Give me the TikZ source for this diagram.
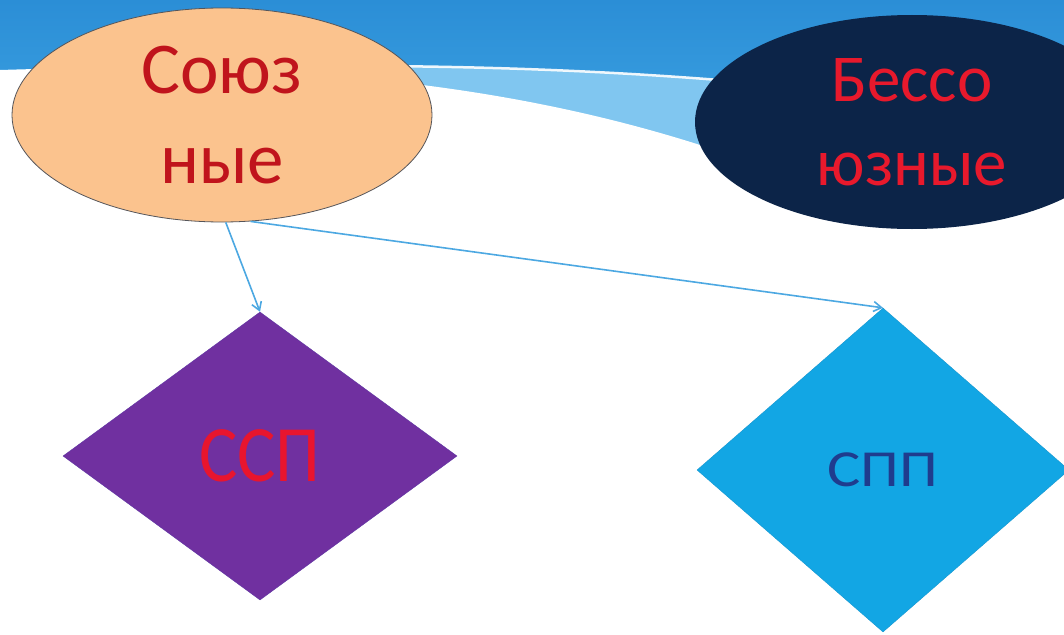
\documentclass[tikz,border=0pt]{standalone}
\usepackage{fontspec}
\setmainfont{Carlito}
\newfontfamily\narrowfont[FakeStretch=0.9]{Carlito}
\newfontfamily\widefont[FakeStretch=1.2]{Carlito}
\usepackage{tikz}
\usepackage{xcolor}
\usetikzlibrary{arrows.meta, shapes.geometric, positioning}

\definecolor{skytop}{HTML}{2B8ED6}
\definecolor{skybottom}{HTML}{4AB2EC}
\definecolor{skyband}{HTML}{80C6F0}
\definecolor{peach}{HTML}{FBC38E}
\definecolor{rimgray}{HTML}{55555A}
\definecolor{soyuzred}{HTML}{C0141C}
\definecolor{navy}{HTML}{0C2448}
\definecolor{bessred}{HTML}{E8192C}
\definecolor{grape}{HTML}{7030A0}
\definecolor{grapeedge}{HTML}{5E34A2}
\definecolor{sspred}{HTML}{E8152E}
\definecolor{cyanfill}{HTML}{12A6E4}
\definecolor{cyanedge}{HTML}{1496D0}
\definecolor{sppblue}{HTML}{1F3C8E}
\definecolor{linkblue}{HTML}{4CA8E2}

\begin{document}
\begin{tikzpicture}[x=1pt, y=-1pt,
    oval/.style={ellipse, inner sep=0pt, minimum width=420pt, minimum height=214pt, align=center},
    rhomb/.style={diamond, inner sep=0pt},
    link/.style={draw=linkblue, line width=1.6pt, -{Straight Barb[length=8pt, width=10pt]}}]

    \path[use as bounding box] (0, 0) rectangle (1064, 634);
    \clip (0, 0) rectangle (1064, 634);

    \fill[white] (0, 0) rectangle (1064, 634);
    \shade[top color=skytop, bottom color=skybottom] (0, 0) rectangle (1064, 260);
    \fill[skyband]
    (300, 66) .. controls (480, 65) and (640, 71) .. (820, 89) -- (820, 300) -- (300, 300) -- cycle;
    \draw[white, opacity=0.9, line width=2.5pt]
    (300, 66) .. controls (480, 65) and (640, 71) .. (820, 89);
    \fill[white]
    (0, 70) .. controls (250, 62) and (480, 75) .. (700, 145)
    .. controls (800, 167) and (950, 180) .. (1064, 185)
    -- (1064, 634) -- (0, 634) -- cycle;

    \node[oval, fill=peach, draw=rimgray, line width=0.8pt, text=soyuzred,
        font=\fontsize{73}{90}\selectfont] (soyuz) at (222, 115) {Союз\\ные};
    \node[oval, minimum width=434pt, fill=navy, text=bessred,
        font=\fontsize{67}{84}\selectfont] (bessoyuz) at (912, 122) {Бессо\\юзные};

    \node[rhomb, minimum width=394pt, minimum height=288pt, fill=grape, draw=grapeedge,
        text=sspred, font=\narrowfont\fontsize{80}{80}\selectfont] (ssp) at (260, 456) {ССП};
    \node[rhomb, minimum width=372pt, minimum height=324pt, fill=cyanfill, draw=cyanedge,
        text=sppblue, font=\widefont\fontsize{52}{52}\selectfont] (spp) at (883, 470) {СПП};

    \draw[link] (soyuz.-88) -- (ssp.north);
    \draw[link] (soyuz.-75) -- (spp.north);
\end{tikzpicture}
\end{document}
